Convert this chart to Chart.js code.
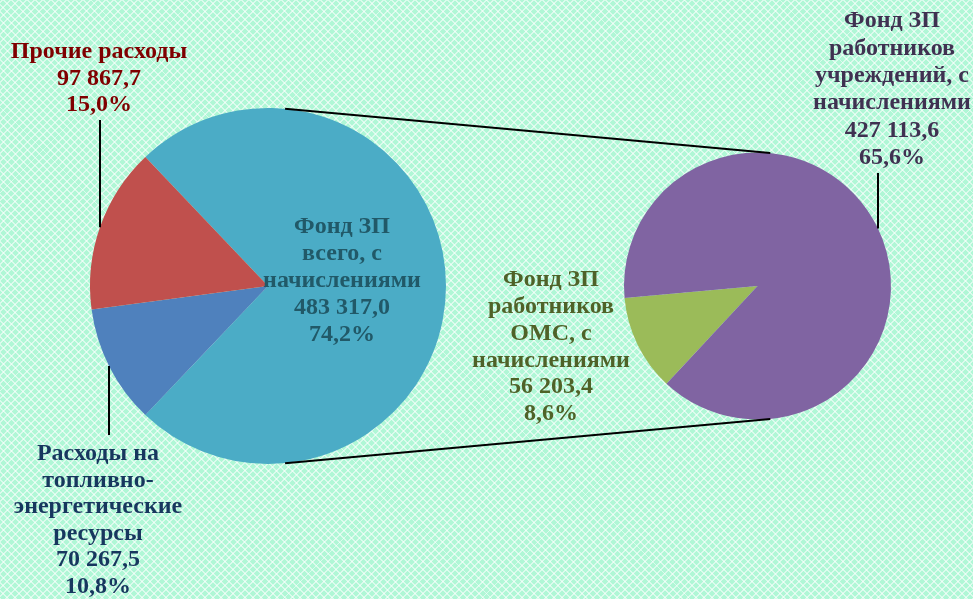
<!DOCTYPE html>
<html><head><meta charset="utf-8">
<script src="https://cdn.jsdelivr.net/npm/chart.js@4"></script>
<style>
html,body{margin:0;padding:0;}
#wrap{position:relative;width:973px;height:599px;overflow:hidden;
background-color:#b0f7d6;
background-image:
 repeating-linear-gradient(45deg, rgba(255,255,255,0.55) 0px, rgba(255,255,255,0.55) 1.4px, transparent 1.4px, transparent 5.6px),
 repeating-linear-gradient(-45deg, rgba(255,255,255,0.55) 0px, rgba(255,255,255,0.55) 1.4px, transparent 1.4px, transparent 5.6px);}
canvas{position:absolute;left:0;top:0;}
</style></head>
<body><div id="wrap"><canvas id="c1" width="973" height="599"></canvas><canvas id="c2" width="973" height="599"></canvas></div>
<script>
const mainCategories = ["Фонд ЗП всего, с начислениями", "Расходы на топливно-энергетические ресурсы", "Прочие расходы"];
const mainValues = [483317.0, 70267.5, 97867.7];
const mainColors = ["#4BACC6", "#4F81BD", "#C0504D"];
const subCategories = ["Фонд ЗП работников ОМС, с начислениями", "Фонд ЗП работников учреждений, с начислениями"];
const subValues = [56203.4, 427113.6];
const subColors = ["#9BBB59", "#8064A2"];
const mainLabelLines = [
  ["Фонд ЗП", "всего, с", "начислениями", "483 317,0", "74,2%"],
  ["Расходы на", "топливно-", "энергетические", "ресурсы", "70 267,5", "10,8%"],
  ["Прочие расходы", "97 867,7", "15,0%"]
];
const subLabelLines = [
  ["Фонд ЗП", "работников", "ОМС, с", "начислениями", "56 203,4", "8,6%"],
  ["Фонд ЗП", "работников", "учреждений, с", "начислениями", "427 113,6", "65,6%"]
];

const total = mainValues.reduce((a,b)=>a+b,0);
const FONT = 'bold 24px "Liberation Serif", "Times New Roman", serif';

const baseOptions = {
  responsive: false, animation: false,
  plugins: { legend: {display:false}, tooltip: {enabled:false} },
  elements: { arc: { borderWidth: 0 } }
};

const chart1 = new Chart(document.getElementById('c1'), {
  type: 'pie',
  data: { labels: mainCategories, datasets: [{ data: mainValues, backgroundColor: mainColors, borderWidth: 0 }] },
  options: Object.assign({}, baseOptions, {
    rotation: 90 - (mainValues[0]/total)*180,
    layout: { padding: { left: 90, top: 108, right: 527, bottom: 135 } }
  })
});

function drawLines(ctx, lines, cx, cy, color, lh){
  ctx.save();
  ctx.font = FONT; ctx.fillStyle = color; ctx.textAlign = 'center'; ctx.textBaseline = 'middle';
  lines.forEach((t,i)=>ctx.fillText(t, cx, cy + i*lh));
  ctx.restore();
}
function seg(ctx,x1,y1,x2,y2){ ctx.beginPath(); ctx.moveTo(x1,y1); ctx.lineTo(x2,y2); ctx.stroke(); }

const overlay = {
  id: 'overlay',
  afterDraw(chart){
    const ctx = chart.ctx;
    const a1 = chart1.getDatasetMeta(0).data[0];
    const a2 = chart.getDatasetMeta(0).data[0];
    const r1 = a1.outerRadius, r2 = a2.outerRadius;
    const ang = 84.5*Math.PI/180;
    ctx.save();
    ctx.strokeStyle = '#000'; ctx.lineWidth = 2;
    seg(ctx, a1.x + r1*Math.cos(-ang), a1.y + r1*Math.sin(-ang), a2.x + r2*Math.cos(-ang), a2.y + r2*Math.sin(-ang));
    seg(ctx, a1.x + r1*Math.cos(ang), a1.y + r1*Math.sin(ang), a2.x + r2*Math.cos(ang), a2.y + r2*Math.sin(ang));
    const edge = (arc, r, x, sign) => arc.y + sign*Math.sqrt(Math.max(r*r - (x-arc.x)*(x-arc.x),0));
    seg(ctx, 100, 120, 100, edge(a1, r1, 100, -1));
    seg(ctx, 109, edge(a1, r1, 109, 1), 109, 435);
    seg(ctx, 878, 173, 878, edge(a2, r2, 878, -1));
    ctx.restore();
    drawLines(ctx, mainLabelLines[2], 99, 52, '#7F0000', 26.5);
    drawLines(ctx, mainLabelLines[1], 98, 454, '#17375E', 26.5);
    drawLines(ctx, mainLabelLines[0], 342, 227, '#215968', 27);
    drawLines(ctx, subLabelLines[0], 551, 280, '#4F6228', 26.8);
    drawLines(ctx, subLabelLines[1], 892, 21, '#3F3151', 27.4);
  }
};

const chart2 = new Chart(document.getElementById('c2'), {
  type: 'pie',
  data: { labels: subCategories, datasets: [{ data: subValues, backgroundColor: subColors, borderWidth: 0 }] },
  options: Object.assign({}, baseOptions, {
    rotation: 223,
    layout: { padding: { left: 624, top: 152, right: 82, bottom: 179 } }
  }),
  plugins: [overlay]
});
</script></body></html>
